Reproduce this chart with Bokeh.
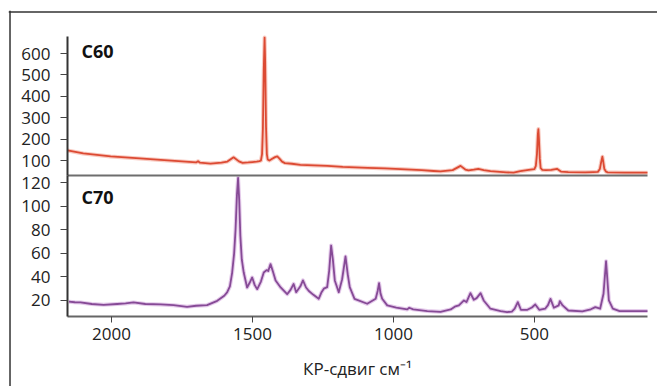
from bokeh.plotting import figure
from bokeh.models import Range1d, LinearAxis, FixedTicker, Span, Label
from bokeh.embed import file_html
from bokeh.resources import INLINE

# ---- data ----
c60_shift = [2156, 2100, 2003, 1900, 1826, 1750, 1700, 1693, 1686, 1649, 1610, 1589, 1567, 1548,
             1535, 1515, 1500, 1485, 1475, 1470, 1466, 1463, 1460, 1457, 1455, 1452, 1449, 1446,
             1440, 1430, 1420, 1412, 1405, 1395, 1385, 1360, 1330, 1280, 1234, 1180, 1092, 1030,
             975, 900, 858, 833, 790, 762, 745, 734, 715, 699, 680, 656, 600, 574, 550, 514, 500,
             495, 491, 488, 486, 484, 481, 478, 472, 460, 440, 420, 405, 380, 320, 291, 275, 268,
             263, 259, 256, 252, 246, 240, 180, 106, 99]
c60_int = [147, 133, 119, 110, 103, 96, 91, 97, 90, 86, 90, 95, 115, 96,
           89, 91, 93, 95, 97, 100, 130, 250, 520, 675, 560, 260, 130, 105,
           100, 108, 116, 119, 110, 95, 88, 85, 80, 77, 75, 70, 66, 63,
           60, 55, 51, 49, 55, 75, 58, 54, 57, 61, 55, 50, 45, 43, 50, 57, 60,
           75, 130, 220, 247, 200, 110, 65, 56, 55, 56, 61, 48, 46, 45, 46, 47, 60,
           95, 118, 95, 60, 48, 45, 43, 43, 43]

c70_shift = [2151, 2130, 2110, 2070, 2028, 1980, 1950, 1922, 1880, 1826, 1780, 1732, 1700, 1661,
             1625, 1600, 1590, 1580, 1572, 1565, 1560, 1555, 1551, 1547, 1543, 1538, 1531, 1519,
             1510, 1501, 1492, 1483, 1470, 1460, 1450, 1444, 1436, 1428, 1418, 1400, 1377, 1365,
             1354, 1345, 1330, 1321, 1310, 1300, 1285, 1265, 1255, 1247, 1235, 1228, 1221, 1215,
             1208, 1194, 1182, 1170, 1162, 1155, 1138, 1093, 1063, 1056, 1051, 1046, 1040, 1022,
             990, 951, 944, 930, 880, 833, 797, 780, 768, 750, 741, 727, 715, 705, 691, 680, 656,
             620, 597, 580, 570, 559, 548, 525, 509, 497, 483, 462, 452, 443, 431, 414, 410, 400,
             380, 330, 300, 284, 267, 255, 246, 236, 222, 198, 150, 106, 99]
c70_int = [19, 18.5, 18.3, 17, 16.3, 17, 17.5, 18.3, 17, 16.6, 16, 14.6, 15.5, 16,
           19.7, 24, 26.8, 32, 43.7, 60, 80, 110, 124, 105, 75, 55, 43.7, 31,
           35, 39.5, 33, 29.6, 36, 43.7, 45.7, 45, 50.8, 45, 37, 31, 25.3, 29,
           34, 27, 32, 37, 31, 28, 25, 21.4, 27, 30, 31.3, 45, 66.6, 55,
           37, 27, 38, 57.3, 42, 31.3, 21.4, 17.2, 21.4, 28, 34.7, 26, 21.4, 15.8,
           14, 12.4, 13.8, 12.5, 11, 10.4, 12.4, 15, 15.8, 20, 18.6, 26.2, 20.6, 22, 26.2, 20, 13,
           11, 10.1, 10.6, 13, 18.6, 12.1, 12.1, 14, 16.6, 12.1, 13, 16, 21.4, 13.8, 15.8, 19.4, 15.8,
           11.5, 10.7, 12.5, 14.3, 13, 25.7, 53.3, 20, 13, 11, 11, 11, 11]

x_ticks = [2000, 1500, 1000, 500]
top_ticks = [100, 200, 300, 400, 500, 600]
bottom_ticks = [20, 40, 60, 80, 100, 120]

X_LEFT, X_RIGHT = 2156, 99        # shown x extent
TOP_MIN, TOP_MAX = 30, 680        # C60 panel extent
BOT_MIN, BOT_MAX = 6.4, 126       # C70 panel extent

FONT = "Open Sans"

# the plot frame covers the whole outer box; the panels sit inside it
p = figure(width=657, height=386, output_backend="svg", toolbar_location=None,
           x_range=Range1d(2365.25, 63.53), y_range=Range1d(-52.98, 265.96),
           min_border_left=8, min_border_right=0, min_border_top=10, min_border_bottom=0,
           x_axis_location=None, y_axis_location=None)
p.extra_y_ranges = {"top": Range1d(-956.7, 801.58)}
p.background_fill_color = "white"
p.border_fill_color = "white"
p.outline_line_color = None
p.grid.visible = False

# outer box (left and top edges)
p.add_layout(Span(location=2359.9, dimension="height", line_color="#333333", line_width=1.5))
p.add_layout(Span(location=794.6, dimension="width", y_range_name="top",
                  line_color="#333333", line_width=1.5))


def style_common(ax):
    ax.major_tick_in = 0
    ax.minor_tick_line_color = None
    ax.major_tick_line_color = "#444444"
    ax.major_label_text_font = FONT
    ax.major_label_text_font_size = "17px"
    ax.major_label_text_color = "#222222"


# x axis at the bottom of the C70 panel
xa = LinearAxis(ticker=FixedTicker(ticks=x_ticks), fixed_location=BOT_MIN,
                bounds=(X_RIGHT, X_LEFT))
style_common(xa)
xa.major_tick_out = 6
xa.axis_line_color = "#666666"
xa.axis_line_width = 2
xa.major_label_standoff = 6
xa.axis_label = "КР-сдвиг см⁻¹"
xa.axis_label_text_font = FONT
xa.axis_label_text_font_size = "17px"
xa.axis_label_text_font_style = "normal"
xa.axis_label_text_color = "#222222"
xa.axis_label_standoff = 13
p.add_layout(xa, "below")

# separator line between the panels (bottom of C60 panel)
sep = LinearAxis(ticker=FixedTicker(ticks=[]), fixed_location=BOT_MAX, bounds=(X_RIGHT, X_LEFT))
sep.major_tick_line_color = None
sep.minor_tick_line_color = None
sep.major_label_text_font_size = "0px"
sep.axis_line_color = "#6e6e6e"
sep.axis_line_width = 2
p.add_layout(sep, "below")

# y axes
ax_top = LinearAxis(y_range_name="top", ticker=FixedTicker(ticks=top_ticks),
                    bounds=(TOP_MIN, TOP_MAX), fixed_location=X_LEFT)
ax_bot = LinearAxis(ticker=FixedTicker(ticks=bottom_ticks), bounds=(BOT_MIN, BOT_MAX),
                    fixed_location=X_LEFT)
for ax in (ax_top, ax_bot):
    style_common(ax)
    ax.major_tick_out = 7
    ax.axis_line_color = "#333333"
    ax.axis_line_width = 2
    ax.major_label_standoff = 10
    p.add_layout(ax, "left")

# spectra (soft halo + core)
p.line(c60_shift, c60_int, y_range_name="top", line_color="#f3a797", line_width=4,
       line_alpha=0.6, line_join="round")
p.line(c60_shift, c60_int, y_range_name="top", line_color="#dc4a33", line_width=1.8,
       line_join="round")
p.line(c70_shift, c70_int, line_color="#d2a6dc", line_width=4, line_alpha=0.6, line_join="round")
p.line(c70_shift, c70_int, line_color="#864a96", line_width=1.8, line_join="round")

# panel labels
p.add_layout(Label(x=2106, y=555.6, y_range_name="top", text="C60", text_font=FONT,
                   text_font_style="bold", text_font_size="18px", text_color="#111111"))
p.add_layout(Label(x=2106, y=98, text="C70", text_font=FONT,
                   text_font_style="bold", text_font_size="18px", text_color="#111111"))

open("out.html", "w").write(file_html(p, INLINE))
